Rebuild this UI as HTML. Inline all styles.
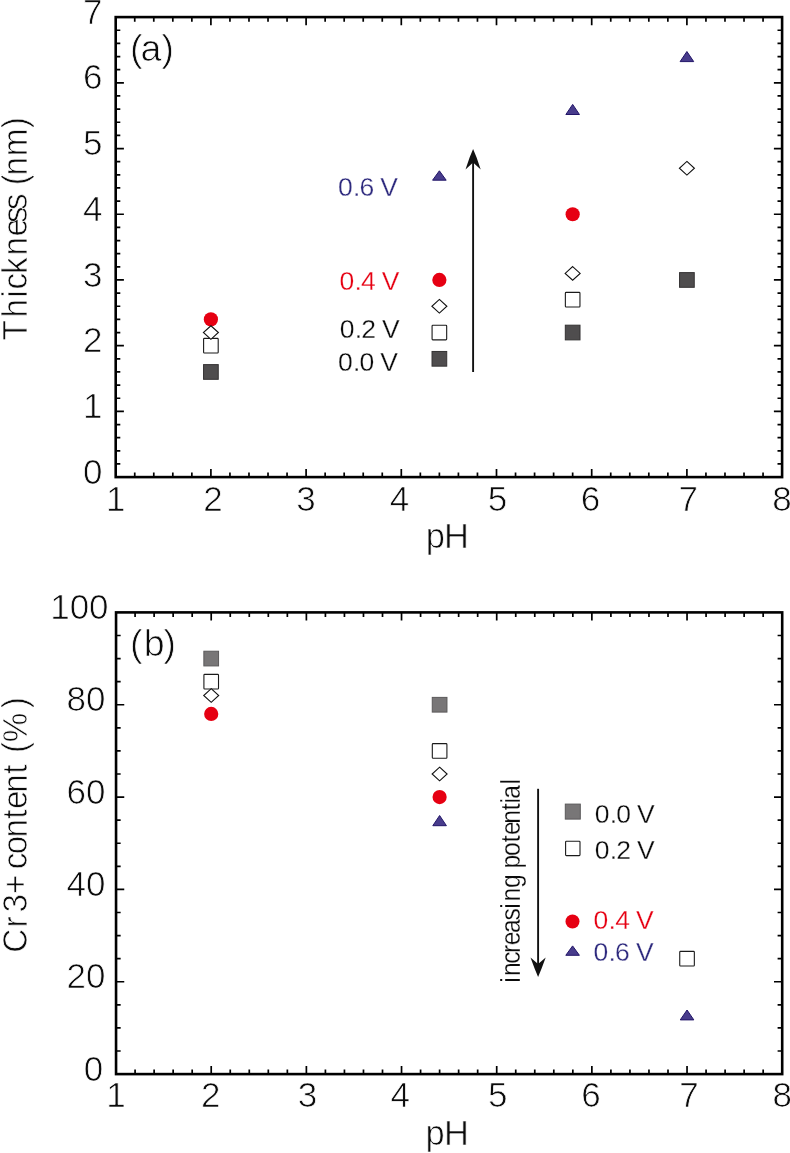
<!DOCTYPE html>
<html lang="en"><head><meta charset="utf-8"><title>Thickness and Cr3+ content vs pH</title>
<style>html,body{margin:0;padding:0;background:#fff}svg{display:block}text{font-family:'Liberation Sans', sans-serif;stroke:#fff;stroke-width:0.74px;stroke-linejoin:round}.s{stroke-width:0.28px}</style>
</head><body>
<svg width="790" height="1153" viewBox="0 0 790 1153">
<rect width="790" height="1153" fill="#fff"/>
<g id="chart-a">
<rect x="115.7" y="17.1" width="666.40" height="460.00" fill="none" stroke="#000" stroke-width="2.6"/>
<path d="M134.74 477.1v-4.6M134.74 17.1v4.6M153.78 477.1v-4.6M153.78 17.1v4.6M172.82 477.1v-4.6M172.82 17.1v4.6M191.86 477.1v-4.6M191.86 17.1v4.6M210.90 477.1v-8.2M210.90 17.1v8.2M229.94 477.1v-4.6M229.94 17.1v4.6M248.98 477.1v-4.6M248.98 17.1v4.6M268.02 477.1v-4.6M268.02 17.1v4.6M287.06 477.1v-4.6M287.06 17.1v4.6M306.10 477.1v-8.2M306.10 17.1v8.2M325.14 477.1v-4.6M325.14 17.1v4.6M344.18 477.1v-4.6M344.18 17.1v4.6M363.22 477.1v-4.6M363.22 17.1v4.6M382.26 477.1v-4.6M382.26 17.1v4.6M401.30 477.1v-8.2M401.30 17.1v8.2M420.34 477.1v-4.6M420.34 17.1v4.6M439.38 477.1v-4.6M439.38 17.1v4.6M458.42 477.1v-4.6M458.42 17.1v4.6M477.46 477.1v-4.6M477.46 17.1v4.6M496.50 477.1v-8.2M496.50 17.1v8.2M515.54 477.1v-4.6M515.54 17.1v4.6M534.58 477.1v-4.6M534.58 17.1v4.6M553.62 477.1v-4.6M553.62 17.1v4.6M572.66 477.1v-4.6M572.66 17.1v4.6M591.70 477.1v-8.2M591.70 17.1v8.2M610.74 477.1v-4.6M610.74 17.1v4.6M629.78 477.1v-4.6M629.78 17.1v4.6M648.82 477.1v-4.6M648.82 17.1v4.6M667.86 477.1v-4.6M667.86 17.1v4.6M686.90 477.1v-8.2M686.90 17.1v8.2M705.94 477.1v-4.6M705.94 17.1v4.6M724.98 477.1v-4.6M724.98 17.1v4.6M744.02 477.1v-4.6M744.02 17.1v4.6M763.06 477.1v-4.6M763.06 17.1v4.6" stroke="#000" stroke-width="1.7" fill="none"/>
<path d="M115.7 463.96h4.6M782.1 463.96h-4.6M115.7 450.81h4.6M782.1 450.81h-4.6M115.7 437.67h4.6M782.1 437.67h-4.6M115.7 424.53h4.6M782.1 424.53h-4.6M115.7 411.39h8.2M782.1 411.39h-8.2M115.7 398.24h4.6M782.1 398.24h-4.6M115.7 385.10h4.6M782.1 385.10h-4.6M115.7 371.96h4.6M782.1 371.96h-4.6M115.7 358.81h4.6M782.1 358.81h-4.6M115.7 345.67h8.2M782.1 345.67h-8.2M115.7 332.53h4.6M782.1 332.53h-4.6M115.7 319.39h4.6M782.1 319.39h-4.6M115.7 306.24h4.6M782.1 306.24h-4.6M115.7 293.10h4.6M782.1 293.10h-4.6M115.7 279.96h8.2M782.1 279.96h-8.2M115.7 266.81h4.6M782.1 266.81h-4.6M115.7 253.67h4.6M782.1 253.67h-4.6M115.7 240.53h4.6M782.1 240.53h-4.6M115.7 227.39h4.6M782.1 227.39h-4.6M115.7 214.24h8.2M782.1 214.24h-8.2M115.7 201.10h4.6M782.1 201.10h-4.6M115.7 187.96h4.6M782.1 187.96h-4.6M115.7 174.81h4.6M782.1 174.81h-4.6M115.7 161.67h4.6M782.1 161.67h-4.6M115.7 148.53h8.2M782.1 148.53h-8.2M115.7 135.39h4.6M782.1 135.39h-4.6M115.7 122.24h4.6M782.1 122.24h-4.6M115.7 109.10h4.6M782.1 109.10h-4.6M115.7 95.96h4.6M782.1 95.96h-4.6M115.7 82.81h8.2M782.1 82.81h-8.2M115.7 69.67h4.6M782.1 69.67h-4.6M115.7 56.53h4.6M782.1 56.53h-4.6M115.7 43.39h4.6M782.1 43.39h-4.6M115.7 30.24h4.6M782.1 30.24h-4.6" stroke="#000" stroke-width="1.7" fill="none"/>
<text x="115.7" y="511.2" font-size="35" text-anchor="middle" fill="#0b0b0b">1</text>
<text x="212.9" y="511.2" font-size="35" text-anchor="middle" fill="#0b0b0b">2</text>
<text x="306.1" y="511.2" font-size="35" text-anchor="middle" fill="#0b0b0b">3</text>
<text x="399.5" y="511.2" font-size="35" text-anchor="middle" fill="#0b0b0b">4</text>
<text x="497.5" y="511.2" font-size="35" text-anchor="middle" fill="#0b0b0b">5</text>
<text x="590.4" y="511.2" font-size="35" text-anchor="middle" fill="#0b0b0b">6</text>
<text x="688.2" y="511.2" font-size="35" text-anchor="middle" fill="#0b0b0b">7</text>
<text x="782.1" y="511.2" font-size="35" text-anchor="middle" fill="#0b0b0b">8</text>
<text x="102.5" y="483.6" font-size="35" text-anchor="end" fill="#0b0b0b">0</text>
<text x="102.5" y="417.9" font-size="35" text-anchor="end" fill="#0b0b0b">1</text>
<text x="102.5" y="352.2" font-size="35" text-anchor="end" fill="#0b0b0b">2</text>
<text x="102.5" y="286.5" font-size="35" text-anchor="end" fill="#0b0b0b">3</text>
<text x="102.5" y="220.7" font-size="35" text-anchor="end" fill="#0b0b0b">4</text>
<text x="102.5" y="155.0" font-size="35" text-anchor="end" fill="#0b0b0b">5</text>
<text x="102.5" y="89.3" font-size="35" text-anchor="end" fill="#0b0b0b">6</text>
<text x="102.5" y="23.6" font-size="35" text-anchor="end" fill="#0b0b0b">7</text>
<text transform="translate(0 547.9)" x="425.7 444.1" y="0" font-size="34.5" fill="#0b0b0b">pH</text>
<text transform="translate(26.7 338.6) rotate(-90) scale(0.95 1)" x="-2.0 22.1 42.9 51.7 68.0 87.6 107.5 121.8 135.5 153.0 161.3 171.7 191.9 221.4" y="0" font-size="35" fill="#0b0b0b">Thickness (nm)</text>
<text transform="translate(0 60.5)" x="130.1 140.4 161.4" y="0" font-size="37.5" fill="#0b0b0b">(a)</text>
<rect x="203.55" y="364.61" width="14.7" height="14.7" fill="#4f4d4e" stroke="#343233" stroke-width="1"/>
<rect x="203.60" y="338.37" width="14.6" height="14.6" rx="0.8" fill="#fff" stroke="#1a1a1a" stroke-width="1.1"/>
<circle cx="210.90" cy="319.39" r="7.1" fill="#e60012"/>
<path d="M210.90 325.73L218.40 332.53L210.90 339.33L203.40 332.53Z" fill="#fff" stroke="#111" stroke-width="1.1"/>
<rect x="432.03" y="351.46" width="14.7" height="14.7" fill="#4f4d4e" stroke="#343233" stroke-width="1"/>
<rect x="432.08" y="325.23" width="14.6" height="14.6" rx="0.8" fill="#fff" stroke="#1a1a1a" stroke-width="1.1"/>
<path d="M439.38 299.44L446.88 306.24L439.38 313.04L431.88 306.24Z" fill="#fff" stroke="#111" stroke-width="1.1"/>
<circle cx="439.38" cy="279.96" r="7.1" fill="#e60012"/>
<path d="M439.38 170.80L446.18 180.20L432.58 180.20Z" fill="#483c8c" stroke="#221568" stroke-width="1" stroke-linejoin="miter"/>
<rect x="565.31" y="325.18" width="14.7" height="14.7" fill="#4f4d4e" stroke="#343233" stroke-width="1"/>
<rect x="565.36" y="292.37" width="14.6" height="14.6" rx="0.8" fill="#fff" stroke="#1a1a1a" stroke-width="1.1"/>
<path d="M572.66 266.59L580.16 273.39L572.66 280.19L565.16 273.39Z" fill="#fff" stroke="#111" stroke-width="1.1"/>
<circle cx="572.66" cy="214.24" r="7.1" fill="#e60012"/>
<path d="M572.66 104.40L579.46 114.50L565.86 114.50Z" fill="#483c8c" stroke="#221568" stroke-width="1" stroke-linejoin="miter"/>
<rect x="679.55" y="272.61" width="14.7" height="14.7" fill="#4f4d4e" stroke="#343233" stroke-width="1"/>
<path d="M686.90 161.44L694.40 168.24L686.90 175.04L679.40 168.24Z" fill="#fff" stroke="#111" stroke-width="1.1"/>
<path d="M686.90 51.50L693.70 61.60L680.10 61.60Z" fill="#483c8c" stroke="#221568" stroke-width="1" stroke-linejoin="miter"/>
<path d="M473.1 372V160" stroke="#111" stroke-width="1.9" fill="none"/>
<path d="M473.1 149L476.6 157.5L480.7 169.4L473.1 162.6L465.5 169.4L469.6 157.5Z" fill="#111"/>
<text transform="translate(339.4 196.0)" class="s" x="-1.5 13.6 20.0 34.7 40.9" y="0" font-size="26.5" fill="#2e2a7e">0.6 V</text>
<text transform="translate(340.9 289.8)" class="s" x="-1.5 13.6 20.2 34.9 40.9" y="0" font-size="26.5" fill="#e60012">0.4 V</text>
<text transform="translate(341.2 338.4)" class="s" x="-1.5 13.6 20.1 34.8 40.9" y="0" font-size="26.5" fill="#0b0b0b">0.2 V</text>
<text transform="translate(339.4 371.4)" class="s" x="-1.5 13.6 20.1 34.8 40.9" y="0" font-size="26.5" fill="#0b0b0b">0.0 V</text>
</g>
<g id="chart-b">
<rect x="116.05" y="612.4" width="666.15" height="461.70" fill="none" stroke="#000" stroke-width="2.6"/>
<path d="M135.08 1074.1v-4.6M135.08 612.4v4.6M154.12 1074.1v-4.6M154.12 612.4v4.6M173.15 1074.1v-4.6M173.15 612.4v4.6M192.18 1074.1v-4.6M192.18 612.4v4.6M211.21 1074.1v-8.2M211.21 612.4v8.2M230.25 1074.1v-4.6M230.25 612.4v4.6M249.28 1074.1v-4.6M249.28 612.4v4.6M268.31 1074.1v-4.6M268.31 612.4v4.6M287.35 1074.1v-4.6M287.35 612.4v4.6M306.38 1074.1v-8.2M306.38 612.4v8.2M325.41 1074.1v-4.6M325.41 612.4v4.6M344.44 1074.1v-4.6M344.44 612.4v4.6M363.48 1074.1v-4.6M363.48 612.4v4.6M382.51 1074.1v-4.6M382.51 612.4v4.6M401.54 1074.1v-8.2M401.54 612.4v8.2M420.58 1074.1v-4.6M420.58 612.4v4.6M439.61 1074.1v-4.6M439.61 612.4v4.6M458.64 1074.1v-4.6M458.64 612.4v4.6M477.67 1074.1v-4.6M477.67 612.4v4.6M496.71 1074.1v-8.2M496.71 612.4v8.2M515.74 1074.1v-4.6M515.74 612.4v4.6M534.77 1074.1v-4.6M534.77 612.4v4.6M553.81 1074.1v-4.6M553.81 612.4v4.6M572.84 1074.1v-4.6M572.84 612.4v4.6M591.87 1074.1v-8.2M591.87 612.4v8.2M610.90 1074.1v-4.6M610.90 612.4v4.6M629.94 1074.1v-4.6M629.94 612.4v4.6M648.97 1074.1v-4.6M648.97 612.4v4.6M668.00 1074.1v-4.6M668.00 612.4v4.6M687.04 1074.1v-8.2M687.04 612.4v8.2M706.07 1074.1v-4.6M706.07 612.4v4.6M725.10 1074.1v-4.6M725.10 612.4v4.6M744.13 1074.1v-4.6M744.13 612.4v4.6M763.17 1074.1v-4.6M763.17 612.4v4.6" stroke="#000" stroke-width="1.7" fill="none"/>
<path d="M116.05 1051.01h4.6M782.2 1051.01h-4.6M116.05 1027.93h4.6M782.2 1027.93h-4.6M116.05 1004.84h4.6M782.2 1004.84h-4.6M116.05 981.76h8.2M782.2 981.76h-8.2M116.05 958.67h4.6M782.2 958.67h-4.6M116.05 935.59h4.6M782.2 935.59h-4.6M116.05 912.50h4.6M782.2 912.50h-4.6M116.05 889.42h8.2M782.2 889.42h-8.2M116.05 866.33h4.6M782.2 866.33h-4.6M116.05 843.25h4.6M782.2 843.25h-4.6M116.05 820.16h4.6M782.2 820.16h-4.6M116.05 797.08h8.2M782.2 797.08h-8.2M116.05 773.99h4.6M782.2 773.99h-4.6M116.05 750.91h4.6M782.2 750.91h-4.6M116.05 727.82h4.6M782.2 727.82h-4.6M116.05 704.74h8.2M782.2 704.74h-8.2M116.05 681.65h4.6M782.2 681.65h-4.6M116.05 658.57h4.6M782.2 658.57h-4.6M116.05 635.48h4.6M782.2 635.48h-4.6" stroke="#000" stroke-width="1.7" fill="none"/>
<text x="116.0" y="1106.8" font-size="35" text-anchor="middle" fill="#0b0b0b">1</text>
<text x="210.7" y="1106.8" font-size="35" text-anchor="middle" fill="#0b0b0b">2</text>
<text x="307.4" y="1106.8" font-size="35" text-anchor="middle" fill="#0b0b0b">3</text>
<text x="400.2" y="1106.8" font-size="35" text-anchor="middle" fill="#0b0b0b">4</text>
<text x="497.7" y="1106.8" font-size="35" text-anchor="middle" fill="#0b0b0b">5</text>
<text x="590.9" y="1106.8" font-size="35" text-anchor="middle" fill="#0b0b0b">6</text>
<text x="689.0" y="1106.8" font-size="35" text-anchor="middle" fill="#0b0b0b">7</text>
<text x="782.2" y="1106.8" font-size="35" text-anchor="middle" fill="#0b0b0b">8</text>
<text x="103.2" y="1080.6" font-size="35" text-anchor="end" fill="#0b0b0b">0</text>
<text x="105.4" y="988.3" font-size="35" text-anchor="end" fill="#0b0b0b">20</text>
<text x="105.4" y="895.9" font-size="35" text-anchor="end" fill="#0b0b0b">40</text>
<text x="105.4" y="803.6" font-size="35" text-anchor="end" fill="#0b0b0b">60</text>
<text x="105.4" y="711.2" font-size="35" text-anchor="end" fill="#0b0b0b">80</text>
<text x="108.6" y="618.9" font-size="35" text-anchor="end" fill="#0b0b0b">100</text>
<text transform="translate(0 1144.8)" x="425.6 444.1" y="0" font-size="34.5" fill="#0b0b0b">pH</text>
<text transform="translate(26.5 950) rotate(-90) scale(0.95 1)" x="-3.0 23.6 35.2 39.6 58.9 79.3 85.1 100.8 118.5 138.2 148.5 165.6 185.5 195.3 207.5 218.7 254.6" y="0" font-size="35" fill="#0b0b0b">Cr 3+ content (%)</text>
<text transform="translate(0 655.6)" x="130.1 143.7 163.4" y="0" font-size="37.5" fill="#0b0b0b">(b)</text>
<rect x="203.86" y="651.22" width="14.7" height="14.7" fill="#787677" stroke="#5b595a" stroke-width="1"/>
<rect x="203.91" y="674.36" width="14.6" height="14.6" rx="0.8" fill="#fff" stroke="#1a1a1a" stroke-width="1.1"/>
<path d="M211.21 688.71L218.71 695.51L211.21 702.31L203.71 695.51Z" fill="#fff" stroke="#111" stroke-width="1.1"/>
<circle cx="211.21" cy="713.97" r="7.1" fill="#e60012"/>
<rect x="432.26" y="697.39" width="14.7" height="14.7" fill="#787677" stroke="#5b595a" stroke-width="1"/>
<rect x="432.31" y="743.61" width="14.6" height="14.6" rx="0.8" fill="#fff" stroke="#1a1a1a" stroke-width="1.1"/>
<path d="M439.61 767.19L447.11 773.99L439.61 780.79L432.11 773.99Z" fill="#fff" stroke="#111" stroke-width="1.1"/>
<circle cx="439.61" cy="797.08" r="7.1" fill="#e60012"/>
<path d="M439.61 815.50L446.41 825.70L432.81 825.70Z" fill="#483c8c" stroke="#221568" stroke-width="1" stroke-linejoin="miter"/>
<rect x="679.74" y="951.38" width="14.6" height="14.6" rx="0.8" fill="#fff" stroke="#1a1a1a" stroke-width="1.1"/>
<path d="M687.04 1010.00L693.84 1019.90L680.24 1019.90Z" fill="#483c8c" stroke="#221568" stroke-width="1" stroke-linejoin="miter"/>
<path d="M538.1 788.8V966" stroke="#111" stroke-width="1.9" fill="none"/>
<path d="M538.1 977L541.6 968.5L545.7 957.4L538.1 964L530.5 957.4L534.6 968.5Z" fill="#111"/>
<text transform="translate(519.6 981.5) rotate(-90) scale(0.88 1)" class="s" x="-1.3 6.3 20.3 32.3 41.1 55.1 69.3 82.8 90.8 106.2 121.8 128.4 142.6 158.3 166.4 179.4 194.6 202.2 207.6 224.0" y="0" font-size="28" fill="#0b0b0b">increasing potential</text>
<rect x="565.30" y="804.10" width="15" height="15" fill="#787677" stroke="#5b595a" stroke-width="1"/>
<rect x="565.60" y="841.20" width="14.4" height="14.4" rx="0.8" fill="#fff" stroke="#1a1a1a" stroke-width="1.1"/>
<circle cx="572.50" cy="921.50" r="7.0" fill="#e60012"/>
<path d="M572.60 945.90L579.40 955.30L565.80 955.30Z" fill="#483c8c" stroke="#221568" stroke-width="1" stroke-linejoin="miter"/>
<text transform="translate(596.2 822.6)" class="s" x="-1.5 13.6 20.1 34.8 40.9" y="0" font-size="26.5" fill="#0b0b0b">0.0 V</text>
<text transform="translate(596.2 859.4)" class="s" x="-1.5 13.6 20.1 34.8 40.9" y="0" font-size="26.5" fill="#0b0b0b">0.2 V</text>
<text transform="translate(595.0 928.6)" class="s" x="-1.5 13.6 20.2 34.9 40.9" y="0" font-size="26.5" fill="#e60012">0.4 V</text>
<text transform="translate(595.0 960.6)" class="s" x="-1.5 13.6 20.0 34.7 40.9" y="0" font-size="26.5" fill="#2e2a7e">0.6 V</text>
</g>
</svg>
</body></html>
